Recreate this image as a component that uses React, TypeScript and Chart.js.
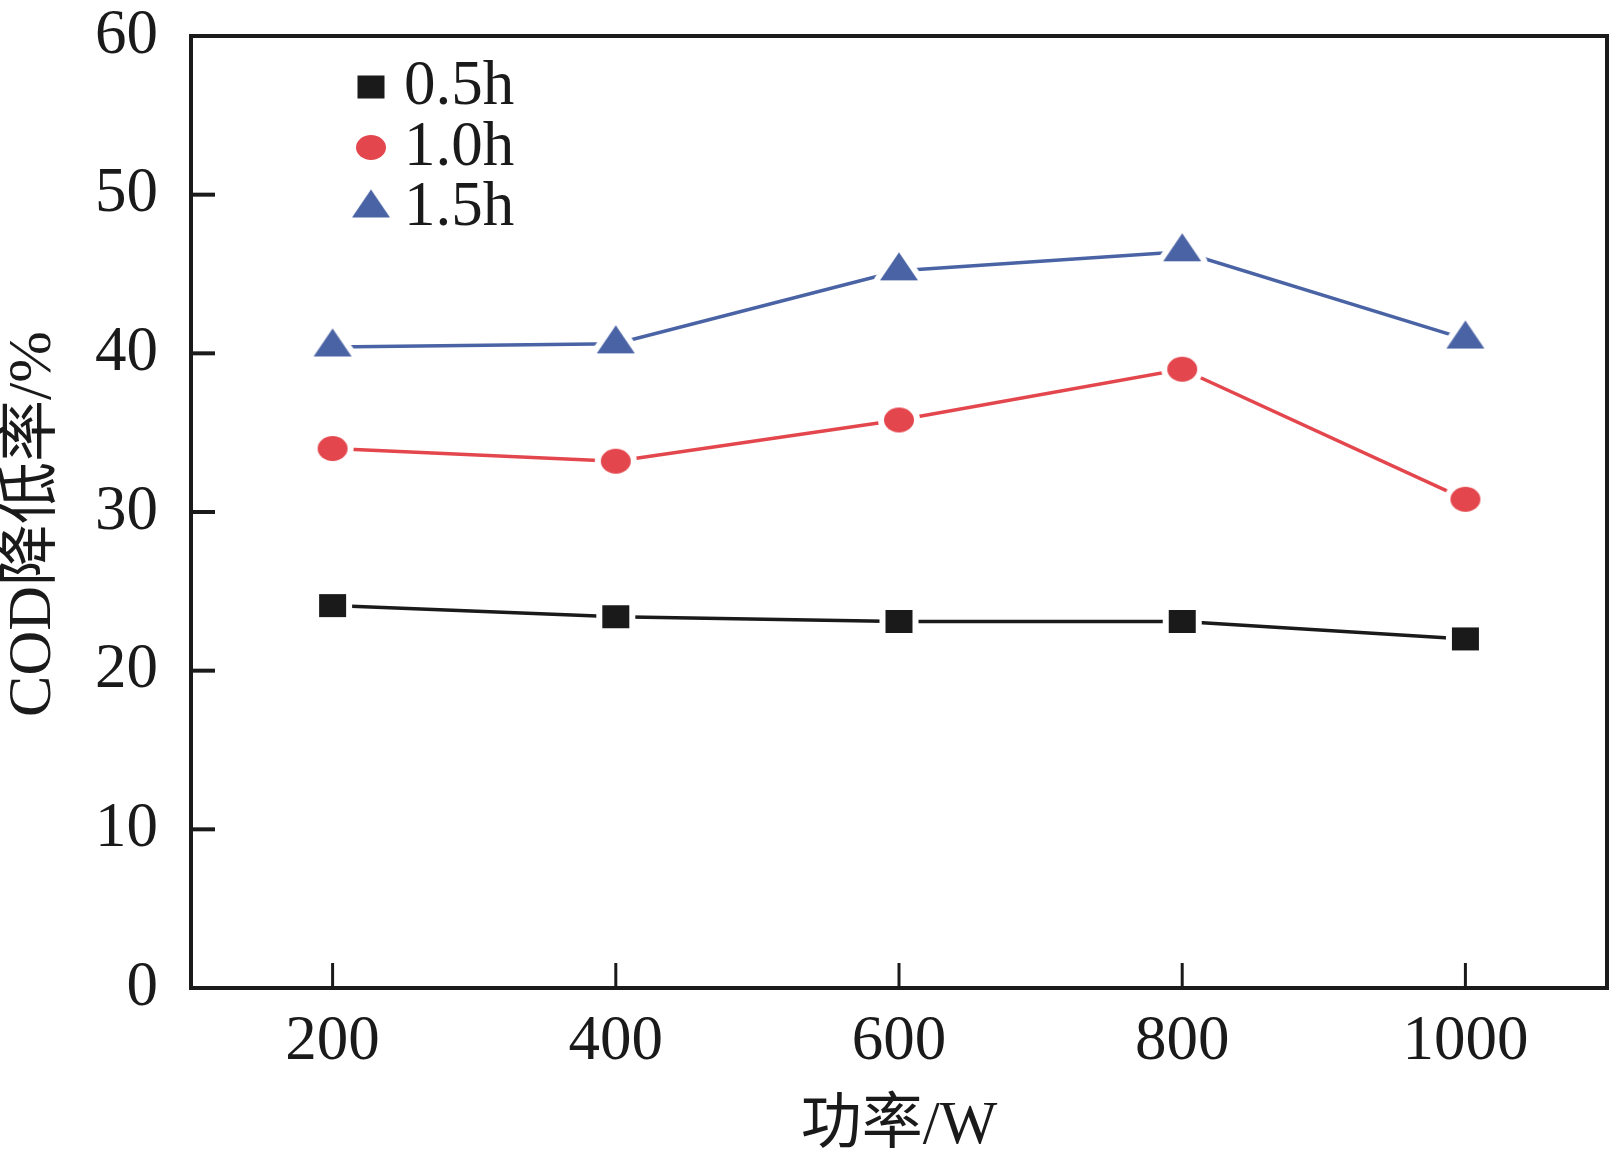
import React, { useEffect, useRef } from 'react';
import { Chart, registerables } from 'chart.js';
Chart.register(...registerables);

// power (W) on the x axis
const powers = [200, 400, 600, 800, 1000];
// COD reduction (%) for each treatment time
const cod05h = [24.1, 23.4, 23.1, 23.1, 22.0];
const cod10h = [34.0, 33.2, 35.8, 39.0, 30.8];
const cod15h = [40.4, 40.6, 45.2, 46.4, 40.9];
const seriesLabels = ['0.5h', '1.0h', '1.5h'];
const yTicks = [0, 10, 20, 30, 40, 50, 60];
const xTitle = '功率/W';
const yTitle = 'COD降低率/%';

const FONT = '"Liberation Serif", "Times New Roman", "Noto Sans CJK SC", serif';
const INK = '#1a1a1a';
const RED = '#e3474d';
const BLUE = '#4a63a5';
const W = 1609;
const H = 1158;

// marker drawn on a small canvas, with a white halo so the line stops short of it
function makeMarker(kind: string, color: string, w: number, h: number) {
    const halo = 6;
    const pad = halo + 1;
    const c = document.createElement('canvas');
    const cw = w + pad * 2;
    let ch = h + pad * 2;
    if (kind === 'triangle') {
        // keep the centroid in the middle of the image
        ch = 2 * (pad + (2 * h) / 3);
    }
    c.width = Math.round(cw);
    c.height = Math.round(ch);
    const ctx = c.getContext('2d');
    if (!ctx) return c;
    ctx.beginPath();
    if (kind === 'square') {
        ctx.rect(pad, (c.height - h) / 2, w, h);
    } else if (kind === 'circle') {
        ctx.ellipse(c.width / 2, c.height / 2, w / 2, h / 2, 0, 0, Math.PI * 2);
    } else {
        ctx.moveTo(c.width / 2, pad);
        ctx.lineTo(pad + w, pad + h);
        ctx.lineTo(pad, pad + h);
        ctx.closePath();
    }
    ctx.lineJoin = 'round';
    ctx.lineWidth = halo * 2;
    ctx.strokeStyle = '#ffffff';
    ctx.stroke();
    ctx.fillStyle = color;
    ctx.fill();
    return c;
}

const framePlugin = {
    id: 'frame',
    afterDraw(chart: any) {
        const { ctx, chartArea } = chart;
        const { left, right, top, bottom } = chartArea;
        const xs = chart.scales.x;
        const ys = chart.scales.y;
        ctx.save();
        ctx.strokeStyle = INK;
        // inward ticks
        ctx.lineWidth = 4;
        ys.ticks.forEach((t: any) => {
            const y = ys.getPixelForValue(t.value);
            ctx.beginPath();
            ctx.moveTo(left, y);
            ctx.lineTo(left + 24, y);
            ctx.stroke();
        });
        ctx.lineWidth = 3;
        xs.ticks.forEach((t: any) => {
            const x = xs.getPixelForValue(t.value);
            ctx.beginPath();
            ctx.moveTo(x, bottom);
            ctx.lineTo(x, bottom - 25);
            ctx.stroke();
        });
        ctx.lineWidth = 4;
        ctx.strokeRect(left, top, right - left, bottom - top);

        // y axis title, a little below the middle of the axis as in the source
        ctx.font = `62px ${FONT}`;
        ctx.fillStyle = INK;
        ctx.textAlign = 'center';
        ctx.textBaseline = 'middle';
        ctx.translate(34, (top + bottom) / 2 + 12);
        ctx.rotate(-Math.PI / 2);
        ctx.fillText(yTitle, 0, 0);
        ctx.restore();
    },
};

const legendPlugin = {
    id: 'insideLegend',
    afterDraw(chart: any) {
        const { ctx, chartArea } = chart;
        ctx.save();
        ctx.font = `63px ${FONT}`;
        ctx.fillStyle = INK;
        ctx.textBaseline = 'alphabetic';
        ctx.textAlign = 'left';
        chart.data.datasets.forEach((ds: any, i: number) => {
            const baseline = chartArea.top + 68 + i * 60.5;
            const cx = chartArea.left + 180;
            const cy = baseline - 17;
            const img = ds.pointStyle;
            ctx.drawImage(img, cx - img.width / 2, cy - img.height / 2);
            ctx.fillText(ds.label, chartArea.left + 213, baseline);
        });
        ctx.restore();
    },
};

const App: React.FC = () => {
    const canvasRef = useRef<HTMLCanvasElement>(null);
    const chartRef = useRef<Chart | null>(null);

    useEffect(() => {
        if (!canvasRef.current) return;
        const ctx = canvasRef.current.getContext('2d');
        if (!ctx) return;
        if (chartRef.current) chartRef.current.destroy();

        const square = makeMarker('square', INK, 27, 23);
        const circle = makeMarker('circle', RED, 30, 25);
        const triangle = makeMarker('triangle', BLUE, 38, 28);

        const toPoints = (vals: number[]) => powers.map((p, i) => ({ x: p, y: vals[i] }));

        chartRef.current = new Chart(ctx, {
            type: 'line',
            data: {
                datasets: [
                    { label: seriesLabels[0], data: toPoints(cod05h), borderColor: INK, borderWidth: 3.5, pointStyle: square as any, pointRadius: 10 },
                    { label: seriesLabels[1], data: toPoints(cod10h), borderColor: RED, borderWidth: 3.5, pointStyle: circle as any, pointRadius: 10 },
                    { label: seriesLabels[2], data: toPoints(cod15h), borderColor: BLUE, borderWidth: 3.5, pointStyle: triangle as any, pointRadius: 10 },
                ],
            },
            options: {
                animation: false,
                responsive: false,
                devicePixelRatio: 1,
                // no extra room for point overflow, the frame sits at fixed margins
                layout: { autoPadding: false, padding: { top: 36, right: 2, left: 0, bottom: 0 } },
                plugins: { legend: { display: false }, tooltip: { enabled: false } },
                scales: {
                    x: {
                        type: 'linear',
                        min: 100,
                        max: 1100,
                        afterBuildTicks: (s: any) => { s.ticks = powers.map((v) => ({ value: v })); },
                        afterFit: (s: any) => {
                            s.height = 170;
                            s.paddingLeft = 0;
                            s.paddingRight = 0;
                        },
                        grid: { display: false },
                        border: { display: false },
                        ticks: {
                            color: INK,
                            font: { family: FONT, size: 63 },
                            padding: 9,
                            maxRotation: 0,
                            autoSkip: false,
                            callback: (v: any) => String(v),
                        },
                        title: { display: true, text: xTitle, color: INK, font: { family: FONT, size: 61 }, padding: { top: 0, bottom: -6 } },
                    },
                    y: {
                        type: 'linear',
                        min: 0,
                        max: 60,
                        afterBuildTicks: (s: any) => { s.ticks = yTicks.map((v) => ({ value: v })); },
                        afterFit: (s: any) => {
                            s.width = 191;
                            s.paddingTop = 0;
                            s.paddingBottom = 0;
                        },
                        grid: { display: false },
                        border: { display: false },
                        ticks: {
                            color: INK,
                            font: { family: FONT, size: 63 },
                            padding: 25,
                            callback: (v: any) => String(v),
                        },
                        title: { display: false },
                    },
                },
            },
            plugins: [framePlugin, legendPlugin],
        });

        return () => {
            if (chartRef.current) {
                chartRef.current.destroy();
                chartRef.current = null;
            }
        };
    }, []);

    return (
        <div style={{ position: 'fixed', left: 0, top: 0, width: W, height: H, background: '#fff' }}>
            <canvas ref={canvasRef} width={W} height={H} style={{ display: 'block' }}></canvas>
        </div>
    );
};

export default App;
